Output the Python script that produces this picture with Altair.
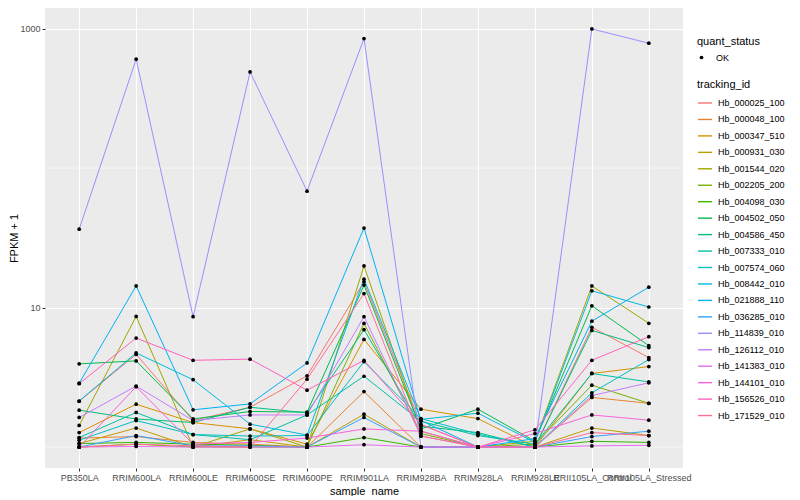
import altair as alt
import pandas as pd

samples = ["PB350LA", "RRIM600LA", "RRIM600LE", "RRIM600SE", "RRIM600PE",
           "RRIM901LA", "RRIM928BA", "RRIM928LA", "RRIM928LE",
           "RRII105LA_Control", "RRII105LA_Stressed"]

tracking_ids = ["Hb_000025_100", "Hb_000048_100", "Hb_000347_510", "Hb_000931_030",
                "Hb_001544_020", "Hb_002205_200", "Hb_004098_030", "Hb_004502_050",
                "Hb_004586_450", "Hb_007333_010", "Hb_007574_060", "Hb_008442_010",
                "Hb_021888_110", "Hb_036285_010", "Hb_114839_010", "Hb_126112_010",
                "Hb_141383_010", "Hb_144101_010", "Hb_156526_010", "Hb_171529_010"]

colors = ["#F8766D", "#EA8331", "#D89000", "#C09B00", "#A3A500", "#7CAE00", "#39B600",
          "#00BB4E", "#00BF7D", "#00C1A3", "#00BFC4", "#00BAE0", "#00B0F6", "#35A2FF",
          "#9590FF", "#C77CFF", "#E76BF3", "#FA62DB", "#FF62BC", "#FF6C91"]

# FPKM + 1 per sample (same order as samples)
hb_000025_100 = [2.13, 4.62, 1.55, 1.93, 3.24, 15.3, 1.45, 1.00, 1.00, 7.23, 4.38]
hb_000048_100 = [1.16, 1.19, 1.08, 1.05, 1.00, 2.50, 1.00, 1.00, 1.00, 2.27, 2.06]
hb_000347_510 = [1.27, 2.03, 1.50, 1.35, 1.05, 5.91, 1.87, 1.60, 1.00, 3.37, 3.78]
hb_000931_030 = [1.06, 1.37, 1.00, 1.13, 1.00, 1.72, 1.00, 1.00, 1.00, 1.37, 1.21]
hb_001544_020 = [1.43, 8.64, 1.00, 1.35, 1.00, 19.9, 1.30, 1.00, 1.10, 14.3, 7.72]
hb_002205_200 = [1.00, 1.05, 1.00, 1.00, 1.00, 7.70, 1.25, 1.00, 1.05, 2.78, 2.06]
hb_004098_030 = [1.06, 1.08, 1.05, 1.03, 1.00, 1.17, 1.00, 1.00, 1.00, 1.10, 1.08]
hb_004502_050 = [3.95, 4.15, 1.59, 1.80, 1.78, 14.5, 1.35, 1.87, 1.10, 10.3, 5.33]
hb_004586_450 = [1.84, 1.59, 1.50, 1.93, 1.76, 6.94, 1.41, 1.27, 1.00, 6.86, 5.17]
hb_007333_010 = [1.17, 1.77, 1.23, 1.13, 1.70, 3.22, 1.53, 1.21, 1.05, 3.37, 2.93]
hb_007574_060 = [1.12, 1.55, 1.23, 1.20, 1.21, 4.10, 1.60, 1.24, 1.00, 2.45, 4.24]
hb_008442_010 = [2.14, 4.73, 3.04, 1.46, 1.22, 16.0, 1.58, 1.75, 1.08, 13.2, 10.1]
hb_021888_110 = [2.87, 14.3, 1.85, 2.04, 4.01, 37.2, 1.55, 1.00, 1.15, 7.99, 14.0]
hb_036285_010 = [1.00, 1.21, 1.02, 1.02, 1.00, 1.63, 1.00, 1.00, 1.00, 1.19, 1.30]
hb_114839_010 = [36.5, 604, 8.6, 489, 68.4, 849, 1.00, 1.00, 1.00, 995, 786]
hb_126112_010 = [1.63, 2.74, 1.55, 1.70, 1.70, 8.60, 1.20, 1.00, 1.00, 2.34, 2.89]
hb_141383_010 = [1.00, 1.01, 1.00, 1.00, 1.00, 1.04, 1.00, 1.00, 1.00, 1.02, 1.03]
hb_144101_010 = [1.00, 2.71, 1.05, 1.08, 1.16, 1.35, 1.30, 1.00, 1.25, 1.70, 1.56]
hb_156526_010 = [2.85, 6.05, 4.19, 4.27, 2.56, 4.19, 1.45, 1.00, 1.33, 4.19, 6.19]
hb_171529_010 = [1.00, 1.05, 1.02, 1.00, 3.07, 12.6, 1.20, 1.00, 1.00, 1.27, 1.21]

series_values = [hb_000025_100, hb_000048_100, hb_000347_510, hb_000931_030,
                 hb_001544_020, hb_002205_200, hb_004098_030, hb_004502_050,
                 hb_004586_450, hb_007333_010, hb_007574_060, hb_008442_010,
                 hb_021888_110, hb_036285_010, hb_114839_010, hb_126112_010,
                 hb_141383_010, hb_144101_010, hb_156526_010, hb_171529_010]

major_breaks = [10, 1000]
minor_breaks = [1, 100]

rows = []
for tid, vals in zip(tracking_ids, series_values):
    for i, (s, v) in enumerate(zip(samples, vals)):
        rows.append({"sample_name": s, "idx": i, "fpkm1": v,
                     "tracking_id": tid, "quant_status": "OK"})
df = pd.DataFrame(rows)

FONT = "Liberation Sans"

x_enc = alt.X("sample_name:N", sort=samples, title="sample_name",
              scale=alt.Scale(type="point", padding=0.6),
              axis=alt.Axis(labelAngle=0, labelOverlap=False, grid=True,
                            gridColor="white", gridWidth=1.1, ticks=True,
                            tickColor="#333333", tickSize=3, domain=False,
                            labelColor="#4D4D4D", labelFontSize=9, labelPadding=2,
                            titleFontSize=11, titleFontWeight="normal",
                            titleColor="black", titlePadding=3))

y_scale = alt.Scale(type="log", domain=[0.708, 1406], nice=False)
y_axis = alt.Axis(values=major_breaks, format="d", grid=True, gridColor="white",
                  gridWidth=1.1, tickColor="#333333", tickSize=3, domain=False,
                  labelColor="#4D4D4D", labelFontSize=9, labelPadding=2,
                  titleFontSize=11, titleFontWeight="normal", titleColor="black",
                  titlePadding=0)
y_enc = alt.Y("fpkm1:Q", title="FPKM + 1", scale=y_scale, axis=y_axis)

minor = alt.Chart(pd.DataFrame({"fpkm1": minor_breaks})).mark_rule(
    color="white", strokeWidth=0.55).encode(
    y=alt.Y("fpkm1:Q", title="FPKM + 1", scale=y_scale, axis=y_axis))

lines = alt.Chart(df).mark_line(strokeWidth=1).encode(
    x=x_enc, y=y_enc,
    color=alt.Color("tracking_id:N",
                    scale=alt.Scale(domain=tracking_ids, range=colors),
                    legend=alt.Legend(title="tracking_id", orient="none",
                                      legendX=652, legendY=71,
                                      symbolType="stroke", symbolStrokeWidth=1.4,
                                      symbolSize=196, labelFontSize=9,
                                      labelColor="black", labelFont=FONT,
                                      titleFontSize=11, titleFontWeight="normal",
                                      titleColor="black", titleFont=FONT,
                                      rowPadding=3.45, titlePadding=5,
                                      labelOffset=5)),
    order=alt.Order("idx:Q"))

points = alt.Chart(df).mark_point(filled=True, size=14, color="black", opacity=1).encode(
    x=x_enc, y=y_enc,
    shape=alt.Shape("quant_status:N", scale=alt.Scale(range=["circle"]),
                    legend=alt.Legend(title="quant_status", orient="none",
                                      legendX=652, legendY=28,
                                      symbolSize=14, symbolFillColor="black",
                                      symbolStrokeColor="black",
                                      labelFontSize=9, labelColor="black",
                                      labelFont=FONT, titleFontSize=11,
                                      titleFontWeight="normal", titleColor="black",
                                      titleFont=FONT, titlePadding=6,
                                      labelOffset=10)))

chart = alt.layer(minor, lines, points).properties(
    width=638, height=460, autosize="none",
    padding={"left": 37, "top": 0, "right": 105, "bottom": 28}
).configure(font=FONT).configure_view(fill="#EBEBEB", strokeWidth=0)

chart.save("out.html", embed_options={"renderer": "svg", "actions": False})
